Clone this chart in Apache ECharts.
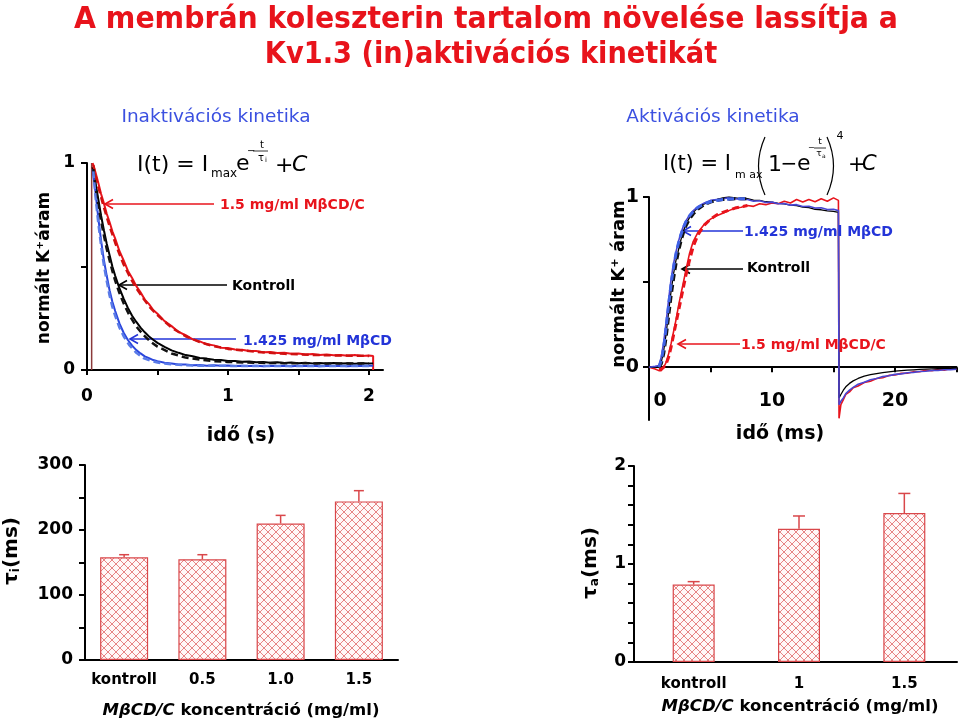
<!DOCTYPE html>
<html><head><meta charset="utf-8">
<script src="https://cdn.jsdelivr.net/npm/echarts@6/dist/echarts.min.js"></script>
<style>html,body{margin:0;padding:0;background:#fff}#c{width:960px;height:722px}</style>
</head><body><div id="c"></div>
<script>
// ---------- DATA ----------
// Inactivation (time in s, normalised current)
const inakT = [0.04,0.06,0.08,0.10,0.12,0.14,0.16,0.18,0.20,0.23,0.26,0.29,0.32,0.35,0.38,0.41,0.44,0.47,0.50,0.55,0.60,0.65,0.70,0.75,0.80,0.85,0.90,0.95,1.00,1.05,1.10,1.15,1.20,1.25,1.30,1.35,1.40,1.45,1.50,1.55,1.60,1.65,1.70,1.75,1.80,1.85,1.90,1.95,2.00,2.03];
const inakRed = [1.00,0.955,0.905,0.85,0.805,0.755,0.715,0.67,0.635,0.575,0.53,0.48,0.445,0.405,0.375,0.34,0.318,0.29,0.272,0.236,0.212,0.184,0.168,0.148,0.138,0.124,0.119,0.108,0.106,0.099,0.098,0.092,0.092,0.086,0.087,0.082,0.083,0.078,0.080,0.075,0.077,0.073,0.075,0.071,0.073,0.069,0.072,0.068,0.070,0.068];
const inakBlack = [0.98,0.905,0.825,0.745,0.675,0.61,0.555,0.50,0.455,0.395,0.345,0.30,0.262,0.232,0.205,0.182,0.162,0.146,0.131,0.112,0.095,0.083,0.072,0.066,0.058,0.055,0.050,0.048,0.044,0.044,0.040,0.041,0.037,0.039,0.035,0.037,0.034,0.036,0.033,0.035,0.032,0.034,0.031,0.034,0.031,0.033,0.030,0.033,0.031,0.032];
const inakBlue = [0.97,0.86,0.735,0.625,0.53,0.455,0.385,0.33,0.285,0.225,0.18,0.145,0.118,0.096,0.08,0.066,0.057,0.048,0.043,0.035,0.031,0.027,0.026,0.023,0.024,0.021,0.023,0.020,0.022,0.019,0.021,0.019,0.021,0.018,0.021,0.019,0.020,0.018,0.021,0.019,0.020,0.018,0.021,0.019,0.020,0.018,0.021,0.019,0.020,0.020];
const redTailT = [2.03,2.03];
const redTailV = [0.068,0];
const stimT = [0.033,0.033];
const stimV = [0,1];
const inakFitT = [0.045,0.06,0.08,0.10,0.12,0.14,0.16,0.18,0.20,0.23,0.26,0.30,0.35,0.40,0.45,0.50,0.60,0.70,0.80,0.90,1.0,1.2,1.4,1.6,1.8,2.0];
const inakFitRed = [0.99,0.94,0.885,0.835,0.785,0.74,0.695,0.655,0.615,0.56,0.51,0.455,0.395,0.345,0.30,0.265,0.205,0.163,0.135,0.115,0.102,0.088,0.078,0.073,0.07,0.068];
const inakFitBlack = [0.97,0.885,0.80,0.72,0.65,0.585,0.53,0.478,0.432,0.372,0.322,0.265,0.21,0.17,0.137,0.113,0.08,0.06,0.05,0.043,0.039,0.035,0.033,0.032,0.032,0.031];
const inakFitBlue = [0.96,0.84,0.71,0.60,0.505,0.43,0.36,0.305,0.262,0.205,0.163,0.12,0.083,0.058,0.045,0.036,0.027,0.023,0.021,0.02,0.02,0.019,0.019,0.019,0.019,0.019];

// Activation (time in ms)
const actT = [0,0.5,0.8,1.0,1.2,1.4,1.6,1.8,2.0,2.2,2.4,2.6,2.8,3.0,3.3,3.6,4.0,4.5,5.0,5.5,6.0,6.5,7.0,7.5,8.0,8.5,9.0,9.5,10,10.5,11,11.5,12,12.5,13,13.5,14,14.5,15,15.4,15.45,15.6,15.8,16.0,16.3,16.6,17,17.5,18,18.5,19,19.5,20,20.5,21,21.5,22,22.5,23,23.5,24,24.5,25];
const actBlue = [0,0.005,0.01,0.06,0.15,0.27,0.40,0.52,0.61,0.68,0.74,0.79,0.83,0.86,0.895,0.92,0.945,0.965,0.98,0.985,0.99,0.995,0.99,0.985,0.985,0.975,0.978,0.968,0.97,0.96,0.962,0.952,0.955,0.944,0.946,0.935,0.937,0.926,0.928,0.92,-0.22,-0.20,-0.18,-0.155,-0.135,-0.118,-0.10,-0.088,-0.074,-0.066,-0.055,-0.05,-0.042,-0.039,-0.032,-0.030,-0.025,-0.024,-0.019,-0.019,-0.015,-0.015,-0.012];
const actBlack = [0,0,0,0.03,0.10,0.20,0.33,0.45,0.55,0.63,0.69,0.75,0.80,0.84,0.88,0.91,0.94,0.96,0.975,0.985,0.995,1.0,0.995,0.99,0.99,0.982,0.98,0.972,0.97,0.962,0.96,0.952,0.95,0.94,0.938,0.928,0.925,0.918,0.915,0.91,-0.18,-0.16,-0.135,-0.115,-0.095,-0.08,-0.066,-0.052,-0.044,-0.037,-0.032,-0.027,-0.023,-0.02,-0.017,-0.015,-0.013,-0.011,-0.01,-0.009,-0.008,-0.007,-0.006];
const actRed = [0,-0.01,-0.02,-0.02,0.0,0.03,0.08,0.14,0.21,0.28,0.36,0.43,0.50,0.57,0.67,0.74,0.795,0.84,0.87,0.89,0.905,0.92,0.935,0.94,0.95,0.945,0.96,0.955,0.965,0.96,0.975,0.965,0.985,0.97,0.985,0.972,0.99,0.975,0.995,0.98,-0.30,-0.22,-0.19,-0.16,-0.145,-0.12,-0.11,-0.09,-0.082,-0.066,-0.062,-0.048,-0.046,-0.036,-0.035,-0.026,-0.027,-0.018,-0.021,-0.012,-0.017,-0.008,-0.012];
const actFitT = [0.8,1.0,1.2,1.4,1.6,1.8,2.0,2.2,2.4,2.6,2.8,3.0,3.3,3.6,4.0,4.5,5.0,5.5,6.0,7.0,8.0];
const actFitBlue = [0.0,0.04,0.12,0.24,0.37,0.49,0.59,0.67,0.73,0.78,0.82,0.855,0.89,0.915,0.94,0.96,0.972,0.98,0.985,0.99,0.99];
const actFitBlack = [0.0,0.02,0.08,0.18,0.30,0.42,0.52,0.61,0.68,0.74,0.79,0.83,0.87,0.90,0.93,0.955,0.97,0.98,0.985,0.99,0.99];
const actFitRed = [-0.01,-0.01,0.0,0.02,0.06,0.12,0.19,0.26,0.33,0.40,0.47,0.54,0.63,0.71,0.78,0.835,0.87,0.895,0.91,0.935,0.95];

// Bar charts
const tiCats = ['kontroll','0.5','1.0','1.5'];
const tiVals = [158,155,210,244];
const tiErr = [4,7,12.5,16.5];
const taCats = ['kontroll','1','1.5'];
const taVals = [0.79,1.36,1.52];
const taErr = [0.03,0.13,0.20];

// Tick labels
const inakXTicks = [0,0.5,1,1.5,2];
const inakXLabels = [0,1,2];
const unitTicks = [0,0.5,1];
const unitLabels = [0,1];
const actXTicks = [5,10,15,20,25];
const actXLabels = [0,10,20];

// ---------- HELPERS ----------
const F = 'DejaVu Sans';
const pairs = (ts, vs) => ts.map((t, i) => [t, vs[i]]);
const AX = {color:'#000', width:2};
const tickFont = {fontFamily:F, fontWeight:'bold', fontSize:17, color:'#000'};
const RED = '#e8141c', BLUE = '#2b46dc', BLACK = '#000';

function hatch(){
  const c = document.createElement('canvas'); c.width = 8; c.height = 8;
  const g = c.getContext('2d');
  g.fillStyle = '#fff8f8'; g.fillRect(0,0,8,8);
  g.strokeStyle = '#e47777'; g.lineWidth = 0.9;
  g.beginPath(); g.moveTo(-1,-1); g.lineTo(9,9); g.moveTo(9,-1); g.lineTo(-1,9); g.stroke();
  return c;
}
const pat = {image: hatch(), repeat: 'repeat'};

function errRender(cap){
  return function(params, api){
    const i = api.value(0), v = api.value(1), e = api.value(2);
    const a = api.coord([i, v]), b = api.coord([i, v + e]);
    const st = {stroke:'#d9474a', lineWidth:1.5};
    return {type:'group', children:[
      {type:'line', shape:{x1:a[0], y1:a[1], x2:b[0], y2:b[1]}, style:st},
      {type:'line', shape:{x1:b[0]-cap, y1:b[1], x2:b[0]+cap, y2:b[1]}, style:st}
    ]};
  };
}
function line(name, xi, data, color, width, dashed, z){
  return {type:'line', name, xAxisIndex:xi, yAxisIndex:xi, data, showSymbol:false, symbol:'none',
    lineStyle:{color, width, type: dashed ? [7,4] : 'solid'}, itemStyle:{color}, z: z || 2, silent:true};
}
function arrow(x1, x2, y, color){
  return {type:'group', z:100, children:[
    {type:'line', shape:{x1, y1:y, x2, y2:y}, style:{stroke:color, lineWidth:1.6}},
    {type:'polyline', shape:{points:[[x2+8,y-4.5],[x2,y],[x2+8,y+4.5]]}, style:{stroke:color, lineWidth:1.6, fill:null}}
  ]};
}
function txt(x, y, text, opt){
  return Object.assign({type:'text', x, y, z:100, style:Object.assign({text, fill:'#000', font:'17px '+F, align:'left', verticalAlign:'middle'}, opt || {})});
}

// ---------- CHART ----------
const chart = echarts.init(document.getElementById('c'), null, {width:960, height:722});
const option = {
  animation:false,
  backgroundColor:'#fff',
  grid:[
    {left:87, top:163, width:296, height:207},
    {left:649, top:197, width:307.5, height:223},
    {left:85, top:465, width:313, height:195},
    {left:641, top:466, width:316, height:196}
  ],
  xAxis:[
    {gridIndex:0, type:'value', min:0, max:2.1, axisLine:{onZero:false, lineStyle:AX},
     axisTick:{customValues:inakXTicks, length:5, lineStyle:AX},
     axisLabel:Object.assign({customValues:inakXLabels, margin:18}, tickFont), splitLine:{show:false}},
    {gridIndex:1, type:'value', min:0, max:25, axisLine:{onZero:true, lineStyle:AX},
     axisTick:{customValues:actXTicks, length:5, lineStyle:AX},
     axisLabel:Object.assign({customValues:actXLabels, margin:-28,
        formatter: v => v === 0 ? '{z|0}' : String(v),
        rich:{z:{fontFamily:F, fontWeight:'bold', fontSize:19, padding:[0,0,0,22]}}}, tickFont, {fontSize:19}),
     splitLine:{show:false}},
    {gridIndex:2, type:'category', data:tiCats, axisLine:{lineStyle:AX}, axisTick:{show:false},
     axisLabel:{interval:0, fontFamily:F, fontWeight:'bold', fontSize:15, color:'#000', margin:13}},
    {gridIndex:3, type:'category', data:taCats, axisLine:{lineStyle:AX}, axisTick:{show:false},
     axisLabel:{interval:0, fontFamily:F, fontWeight:'bold', fontSize:15, color:'#000', margin:15}}
  ],
  yAxis:[
    {gridIndex:0, type:'value', min:0, max:1, axisLine:{show:true, onZero:false, lineStyle:AX},
     axisTick:{show:true, customValues:unitTicks, length:6, lineStyle:AX},
     axisLabel:Object.assign({customValues:unitLabels, margin:12}, tickFont), splitLine:{show:false}},
    {gridIndex:1, type:'value', min:-0.31, max:1, axisLine:{show:true, onZero:false, lineStyle:AX},
     axisTick:{show:true, customValues:unitTicks, length:6, lineStyle:AX},
     axisLabel:Object.assign({customValues:unitLabels, margin:10}, tickFont, {fontSize:19}), splitLine:{show:false}},
    {gridIndex:2, type:'value', min:0, max:300, interval:100, axisLine:{show:true, lineStyle:AX},
     axisTick:{show:true, length:6, lineStyle:AX},
     minorTick:{show:true, splitNumber:2, length:6, lineStyle:AX},
     axisLabel:Object.assign({margin:12}, tickFont), splitLine:{show:false}},
    {gridIndex:3, type:'value', min:0, max:2, interval:1, offset:7, axisLine:{show:true, lineStyle:AX},
     axisTick:{show:true, length:6, lineStyle:AX},
     minorTick:{show:true, splitNumber:5, length:6, lineStyle:AX},
     axisLabel:Object.assign({margin:8}, tickFont), splitLine:{show:false}}
  ],
  series:[
    line('stim', 0, pairs(stimT, stimV), '#8b3a3a', 1.5),
    line('red', 0, pairs(inakT, inakRed).concat(pairs(redTailT, redTailV)), RED, 2),
    line('black', 0, pairs(inakT, inakBlack), BLACK, 2),
    line('blue', 0, pairs(inakT, inakBlue), BLUE, 2),
    line('redFit', 0, pairs(inakFitT, inakFitRed), '#d01010', 2.5, true, 3),
    line('blackFit', 0, pairs(inakFitT, inakFitBlack), '#111', 2.5, true, 3),
    line('blueFit', 0, pairs(inakFitT, inakFitBlue), '#5a7be8', 2.5, true, 3),

    line('aRed', 1, pairs(actT, actRed), RED, 1.6),
    line('aBlack', 1, pairs(actT, actBlack), BLACK, 1.3),
    line('aBlue', 1, pairs(actT, actBlue), '#4846d4', 1.6),
    line('aRedFit', 1, pairs(actFitT, actFitRed), RED, 3, true, 3),
    line('aBlackFit', 1, pairs(actFitT, actFitBlack), '#111', 3, true, 3),
    line('aBlueFit', 1, pairs(actFitT, actFitBlue), '#3f62e6', 3, true, 3),

    {type:'bar', xAxisIndex:2, yAxisIndex:2, data:tiVals, barWidth:48,
     itemStyle:{color:pat, borderColor:'#d9474a', borderWidth:1.2}, silent:true},
    {type:'custom', xAxisIndex:2, yAxisIndex:2, renderItem:errRender(5),
     data:tiVals.map((v, i) => [i, v, tiErr[i]]), encode:{x:0, y:1}, z:5, silent:true},
    {type:'bar', xAxisIndex:3, yAxisIndex:3, data:taVals, barWidth:42,
     itemStyle:{color:pat, borderColor:'#d9474a', borderWidth:1.2}, silent:true},
    {type:'custom', xAxisIndex:3, yAxisIndex:3, renderItem:errRender(6),
     data:taVals.map((v, i) => [i, v, taErr[i]]), encode:{x:0, y:1}, z:5, silent:true}
  ],
  graphic:[
    // title
    Object.assign(txt(486, 20, 'A membrán koleszterin tartalom növelése lassítja a', {font:'bold 30px '+F, fill:'#e8131b', align:'center'}), {scaleX:0.945}),
    Object.assign(txt(491, 55, 'Kv1.3 (in)aktivációs kinetikát', {font:'bold 30px '+F, fill:'#e8131b', align:'center'}), {scaleX:0.908}),
    // subtitles
    txt(216, 117, 'Inaktivációs kinetika', {font:'18.5px '+F, fill:'#3b50e0', align:'center'}),
    txt(713, 117, 'Aktivációs kinetika', {font:'18.5px '+F, fill:'#3b50e0', align:'center'}),
    // formula 1
    txt(137, 165, 'I(t) = I', {font:'22px '+F}),
    txt(211, 174, 'max', {font:'12px '+F}),
    txt(236, 164, 'e', {font:'22px '+F}),
    txt(247, 151, '−', {font:'10px '+F}),
    {type:'line', z:100, shape:{x1:253, y1:151, x2:268, y2:151}, style:{stroke:'#000', lineWidth:0.8}},
    txt(262, 145, 't', {font:'10px '+F, align:'center'}),
    txt(261, 158, 'τ', {font:'10px '+F, align:'center'}),
    txt(265, 160, 'i', {font:'7px '+F}),
    txt(275, 166, '+', {font:'22px '+F}),
    txt(292, 165, 'C', {font:'italic 22px '+F}),
    // formula 2
    txt(663, 165, 'I(t) = I', {font:'21px '+F}),
    txt(735, 175, 'm ax', {font:'11px '+F}),
    {type:'bezierCurve', z:100, shape:{x1:765, y1:137, x2:765, y2:195, cpx1:752, cpy1:166}, style:{stroke:'#000', lineWidth:1.2, fill:null}},
    txt(768, 165, '1', {font:'22px '+F}),
    txt(789, 165, '−', {font:'20px '+F, align:'center'}),
    txt(797, 164, 'e', {font:'22px '+F}),
    txt(808, 148, '−', {font:'8px '+F}),
    {type:'line', z:100, shape:{x1:814, y1:148, x2:826, y2:148}, style:{stroke:'#000', lineWidth:0.8}},
    txt(820, 142, 't', {font:'9px '+F, align:'center'}),
    txt(819, 154, 'τ', {font:'9px '+F, align:'center'}),
    txt(822, 156, 'a', {font:'6px '+F}),
    {type:'bezierCurve', z:100, shape:{x1:827, y1:137, x2:827, y2:195, cpx1:840, cpy1:166}, style:{stroke:'#000', lineWidth:1.2, fill:null}},
    txt(840, 136, '4', {font:'11px '+F, align:'center'}),
    txt(848, 166, '+', {font:'21px '+F}),
    txt(862, 165, 'C', {font:'italic 21px '+F}),
    // top-left annotations
    txt(220, 205, '1.5 mg/ml MβCD/C', {font:'bold 14px '+F, fill:RED}),
    arrow(214, 105, 204, RED),
    txt(232, 286, 'Kontroll', {font:'bold 14px '+F, fill:'#000'}),
    arrow(227, 119, 285, '#000'),
    txt(243, 341, '1.425 mg/ml MβCD', {font:'bold 14px '+F, fill:'#2334d8'}),
    arrow(236, 130, 339, '#2334d8'),
    // top-right annotations
    txt(744, 232, '1.425 mg/ml MβCD', {font:'bold 14px '+F, fill:'#2334d8'}),
    arrow(743, 683, 231, '#2334d8'),
    txt(747, 268, 'Kontroll', {font:'bold 14px '+F, fill:'#000'}),
    arrow(743, 682, 269, '#000'),
    txt(741, 345, '1.5 mg/ml MβCD/C', {font:'bold 14px '+F, fill:RED}),
    arrow(740, 678, 344, RED),
    // axis names
    txt(241, 436, 'idő (s)', {font:'bold 19px '+F, align:'center'}),
    txt(780, 434, 'idő (ms)', {font:'bold 19px '+F, align:'center'}),
    Object.assign(txt(45, 268, 'normált K⁺áram', {font:'bold 17px '+F, align:'center'}), {rotation:Math.PI/2}),
    Object.assign(txt(619, 284, 'normált K⁺ áram', {font:'bold 18px '+F, align:'center'}), {rotation:Math.PI/2}),
    Object.assign(txt(12, 551, '{m|τ}{s|i}{m|(ms)}', {font:'bold 20px '+F, align:'center',
        rich:{m:{fontFamily:F, fontWeight:'bold', fontSize:20, verticalAlign:'bottom'}, s:{fontFamily:F, fontWeight:'bold', fontSize:12, verticalAlign:'bottom'}}}), {rotation:Math.PI/2}),
    Object.assign(txt(591, 563, '{m|τ}{s|a}{m|(ms)}', {font:'bold 20px '+F, align:'center',
        rich:{m:{fontFamily:F, fontWeight:'bold', fontSize:20, verticalAlign:'bottom'}, s:{fontFamily:F, fontWeight:'bold', fontSize:12, verticalAlign:'bottom'}}}), {rotation:Math.PI/2}),
    txt(241, 711, '{i|MβCD/C} koncentráció (mg/ml)', {font:'bold 16.5px '+F, align:'center',
        rich:{i:{fontFamily:F, fontWeight:'bold', fontStyle:'italic', fontSize:16.5}}}),
    txt(800, 707, '{i|MβCD/C} koncentráció (mg/ml)', {font:'bold 16.5px '+F, align:'center',
        rich:{i:{fontFamily:F, fontWeight:'bold', fontStyle:'italic', fontSize:16.5}}}),
    // x-axis line continuation for offset y axis (bottom right)
    {type:'line', z:100, shape:{x1:634, y1:662, x2:642, y2:662}, style:{stroke:'#000', lineWidth:2}}
  ]
};
chart.setOption(option);
</script></body></html>
